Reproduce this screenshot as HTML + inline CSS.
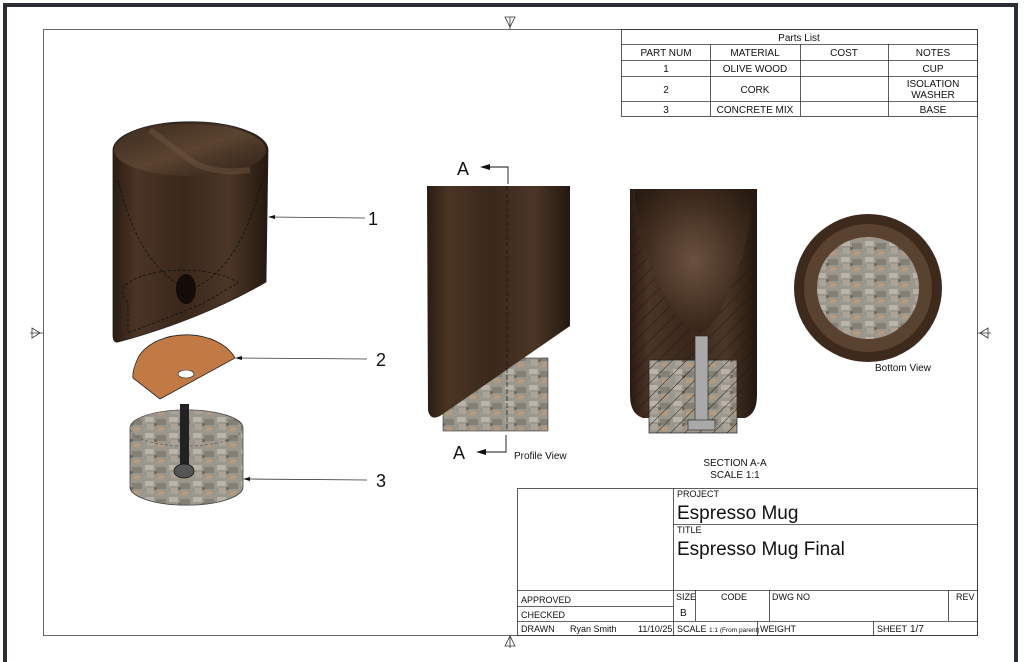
<!DOCTYPE html>
<html><head><meta charset="utf-8"><style>
html,body{margin:0;padding:0;background:#fff}
svg{display:block}
text{font-family:"Liberation Sans",Arial,sans-serif;fill:#111}
</style></head><body>
<svg width="1024" height="662" viewBox="0 0 1024 662" xmlns="http://www.w3.org/2000/svg">
<defs>
<linearGradient id="wood" x1="0" x2="1" y1="0" y2="0">
<stop offset="0" stop-color="#2a1c12"/><stop offset="0.15" stop-color="#4a3424"/><stop offset="0.45" stop-color="#3a281b"/><stop offset="0.75" stop-color="#4b3626"/><stop offset="1" stop-color="#24180f"/>
</linearGradient>
<linearGradient id="woodin" x1="0" x2="1" y1="0" y2="1">
<stop offset="0" stop-color="#3b2a1d"/><stop offset="0.5" stop-color="#5a4330"/><stop offset="1" stop-color="#2e2016"/>
</linearGradient>
<pattern id="stone" width="24" height="16" patternUnits="userSpaceOnUse">
<rect width="24" height="16" fill="#9c978c"/>
<rect x="1" y="1" width="9" height="5" fill="#b8b3a8"/>
<rect x="12" y="3" width="10" height="6" fill="#858076"/>
<rect x="3" y="8" width="7" height="6" fill="#aaa498"/>
<rect x="14" y="11" width="6" height="4" fill="#b59a7c"/>
<rect x="10" y="7" width="3" height="3" fill="#6f6a62"/>
</pattern>
<radialGradient id="bowl" cx="0.5" cy="0.5" r="0.7">
<stop offset="0" stop-color="#6a5140"/><stop offset="0.6" stop-color="#3f2c1e"/><stop offset="1" stop-color="#24180f"/>
</radialGradient>
<pattern id="hatch" width="10" height="10" patternUnits="userSpaceOnUse" patternTransform="rotate(45)">
<line x1="0" y1="0" x2="0" y2="10" stroke="#111" stroke-width="0.9"/>
</pattern>
</defs>

<rect x="5" y="5" width="1011" height="660" fill="none" stroke="#2a2f36" stroke-width="4"/>
<rect x="43.5" y="29.5" width="934" height="606" fill="none" stroke="#666" stroke-width="1"/>
<g fill="none" stroke="#333" stroke-width="0.8">
<path d="M505 17 L515 17 L510 27 Z M510 17 V29"/>
<path d="M505 646 L515 646 L510 636 Z M510 636 V648"/>
<path d="M32 328 L32 338 L40 333 Z M30 333 H43"/>
<path d="M988 328 L988 338 L980 333 Z M978 333 H991"/>
</g>

<g stroke="#333" stroke-width="0.8" fill="none">
<rect x="621.5" y="29.5" width="356" height="87"/>
<line x1="621" y1="44.5" x2="977" y2="44.5"/>
<line x1="621" y1="60.5" x2="977" y2="60.5"/>
<line x1="621" y1="76.5" x2="977" y2="76.5"/>
<line x1="621" y1="101.5" x2="977" y2="101.5"/>
<line x1="710.5" y1="44" x2="710.5" y2="116"/>
<line x1="800.5" y1="44" x2="800.5" y2="116"/>
<line x1="888.5" y1="44" x2="888.5" y2="116"/>
</g>
<g font-size="10" text-anchor="middle">
<text x="799" y="41">Parts List</text>
<text x="666" y="56">PART NUM</text><text x="755" y="56">MATERIAL</text><text x="844" y="56">COST</text><text x="933" y="56">NOTES</text>
<text x="666" y="72">1</text><text x="755" y="72">OLIVE WOOD</text><text x="933" y="72">CUP</text>
<text x="666" y="93">2</text><text x="755" y="93">CORK</text><text x="933" y="87">ISOLATION</text><text x="933" y="98">WASHER</text>
<text x="666" y="113">3</text><text x="755" y="113">CONCRETE MIX</text><text x="933" y="113">BASE</text>
</g>

<!-- exploded cup -->
<path d="M113 150 A77 28 0 0 1 268 150 L266 282 Q200 320 118 342 Q113 343 113 335 Z" fill="url(#wood)" stroke="#222" stroke-width="0.8"/>
<ellipse cx="190" cy="150" rx="76" ry="26" fill="url(#woodin)"/>
<path d="M150 130 Q170 145 190 160 Q210 175 250 170" fill="none" stroke="#6b5341" stroke-width="6" opacity="0.5"/>
<path d="M118 180 Q140 270 190 290 Q240 270 262 180" fill="none" stroke="#111" stroke-dasharray="3,2" stroke-width="0.8"/>
<path d="M128 302 A60 22 0 0 1 238 283 L200 305 L128 333 Z" fill="none" stroke="#111" stroke-dasharray="3,2" stroke-width="0.8"/>
<ellipse cx="186" cy="289" rx="10" ry="15" fill="#140c08"/>
<path d="M235 358 A52 36 0 0 0 139 356 Q132 370 133 378 L160 399 Z" fill="#c27a45" stroke="#222" stroke-width="0.8"/>
<ellipse cx="186" cy="374" rx="8" ry="4" fill="#fff" stroke="#222" stroke-width="0.6"/>
<path d="M130 428 A56 18 0 0 1 243 428 L243 487 A56 18 0 0 1 130 487 Z" fill="url(#stone)" stroke="#444" stroke-width="0.8"/>
<ellipse cx="186" cy="428" rx="56" ry="18" fill="url(#stone)" stroke="#555" stroke-dasharray="3,2" stroke-width="0.6"/>
<rect x="180" y="404" width="9" height="66" fill="#222"/>
<ellipse cx="184" cy="471" rx="10" ry="7" fill="#555" stroke="#111" stroke-width="0.8"/>
<g stroke="#333" stroke-width="0.8">
<line x1="270" y1="217" x2="365" y2="218"/>
<line x1="237" y1="358" x2="367" y2="359"/>
<line x1="245" y1="479" x2="367" y2="480"/>
</g>
<g fill="#111"><path d="M268 217 l7 -2 v4 Z"/><path d="M235 358 l7 -2 v4 Z"/><path d="M243 479 l7 -2 v4 Z"/></g>
<g font-size="18"><text x="368" y="225">1</text><text x="376" y="366">2</text><text x="376" y="487">3</text></g>

<!-- profile view -->
<rect x="443" y="358" width="105" height="73" fill="url(#stone)" stroke="#333" stroke-width="0.6"/>
<path d="M427 186 L570 186 L570 326 L440 416 Q430 421 428 410 Z" fill="url(#wood)"/>
<line x1="507" y1="186" x2="507" y2="431" stroke="#111" stroke-dasharray="5,2" stroke-width="0.7"/>
<g stroke="#111" stroke-width="0.9" fill="none">
<path d="M490 167 H508 V184"/><path d="M485 452 H506 V435"/>
</g>
<g fill="#111"><path d="M480 167 l10 -3 v6 Z"/><path d="M476 452 l10 -3 v6 Z"/></g>
<text x="457" y="175" font-size="18">A</text>
<text x="453" y="459" font-size="18">A</text>
<text x="514" y="459" font-size="10">Profile View</text>

<!-- section A-A -->
<path d="M630 189 L757 189 L757 395 Q757 414 745 418 L643 418 Q630 414 630 395 Z" fill="url(#wood)"/>
<path d="M630 189 L757 189 L757 395 Q757 414 745 418 L643 418 Q630 414 630 395 Z" fill="url(#hatch)" opacity="0.8"/>
<path d="M635 189 L752 189 Q752 250 720 310 Q705 340 693 330 Q665 310 645 250 Q635 220 635 189 Z" fill="url(#bowl)"/>
<rect x="649" y="360" width="88" height="73" fill="url(#stone)" stroke="#222" stroke-width="0.7"/>
<rect x="649" y="360" width="88" height="73" fill="url(#hatch)"/>
<rect x="695" y="336" width="13" height="92" fill="#a9a9a9" stroke="#222" stroke-width="0.6"/>
<rect x="688" y="420" width="27" height="10" fill="#a9a9a9" stroke="#222" stroke-width="0.6"/>
<g font-size="10" text-anchor="middle"><text x="735" y="466">SECTION A-A</text><text x="735" y="478">SCALE 1:1</text></g>

<!-- bottom view -->
<circle cx="868" cy="288" r="74" fill="#3d2a1c"/>
<circle cx="868" cy="288" r="64" fill="#5a4230"/>
<circle cx="868" cy="288" r="51" fill="url(#stone)"/>
<text x="903" y="371" font-size="10" text-anchor="middle">Bottom View</text>

<!-- title block -->
<g stroke="#333" stroke-width="0.8" fill="none">
<rect x="517.5" y="488.5" width="460" height="147"/>
<line x1="673.5" y1="488" x2="673.5" y2="635"/>
<line x1="673" y1="524.5" x2="977" y2="524.5"/>
<line x1="517" y1="590.5" x2="977" y2="590.5"/>
<line x1="517" y1="606.5" x2="673" y2="606.5"/>
<line x1="517" y1="621.5" x2="977" y2="621.5"/>
<line x1="695.5" y1="590" x2="695.5" y2="621"/>
<line x1="769.5" y1="590" x2="769.5" y2="621"/>
<line x1="948.5" y1="590" x2="948.5" y2="621"/>
<line x1="757.5" y1="621" x2="757.5" y2="635"/>
<line x1="873.5" y1="621" x2="873.5" y2="635"/>
</g>
<g font-size="9">
<text x="677" y="497">PROJECT</text>
<text x="677" y="533">TITLE</text>
<text x="521" y="603">APPROVED</text>
<text x="521" y="618">CHECKED</text>
<text x="521" y="632">DRAWN</text><text x="570" y="632">Ryan Smith</text><text x="638" y="632">11/10/25</text>
<text x="676" y="600">SIZE</text><text x="721" y="600">CODE</text><text x="772" y="600">DWG NO</text><text x="956" y="600">REV</text>
<text x="680" y="616" font-size="10">B</text>
<text x="677" y="632">SCALE</text><text x="709" y="632" font-size="6.5">1:1 (From parent)</text>
<text x="760" y="632">WEIGHT</text><text x="877" y="632">SHEET</text><text x="910" y="632" font-size="10">1/7</text>
</g>
<text x="677" y="519" font-size="19">Espresso Mug</text>
<text x="677" y="555" font-size="19">Espresso Mug Final</text>
</svg>
</body></html>
